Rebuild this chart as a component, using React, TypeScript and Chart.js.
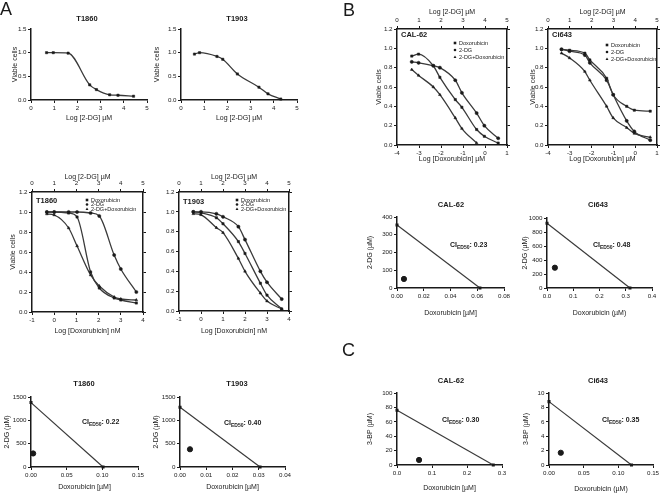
import React, { useEffect, useRef } from "react";
import { Chart, registerables } from "chart.js";
Chart.register(...registerables);

const FONT = "'Liberation Sans', Arial, Helvetica, sans-serif";
const INK = "#1a1a1a";
const LINE = "#3a3a3a";

// ---------------- DATA ----------------
// Panel A top: 2-DG alone (x = Log [2-DG] µM)
const aTopT1860Dose = [0.67, 0.96, 1.6, 2.53, 2.82, 3.39, 3.75, 4.42];
const aTopT1860Viab = [1.0, 1.0, 0.99, 0.32, 0.22, 0.11, 0.1, 0.08];
const aTopT1903Dose = [0.58, 0.8, 1.55, 1.8, 2.43, 3.36, 3.75, 4.3];
const aTopT1903Viab = [0.97, 1.0, 0.92, 0.86, 0.55, 0.27, 0.13, 0.02];

// Panel A middle (x in Log [2-DG] µM units of the top axis)
const aMidT1860Dose = [0.67, 1.0, 1.65, 2.03, 2.64, 3.03, 3.7, 4.0, 4.7];
const aMidT1860Dox = [1.0, 1.0, 0.99, 0.95, 0.4, 0.24, 0.14, 0.12, 0.09];
const aMidT1860DG = [1.0, 1.0, 1.0, 1.0, 0.99, 0.96, 0.57, 0.43, 0.2];
const aMidT1860Combo = [0.98, 0.97, 0.84, 0.66, 0.37, 0.26, 0.15, 0.13, 0.12];

const aMidT1903Dose = [0.65, 1.0, 1.7, 2.0, 2.7, 3.0, 3.7, 4.0, 4.67];
const aMidT1903Dox = [1.0, 0.99, 0.94, 0.88, 0.7, 0.58, 0.28, 0.16, 0.02];
const aMidT1903DG = [1.0, 1.0, 0.98, 0.95, 0.85, 0.72, 0.4, 0.29, 0.12];
const aMidT1903Combo = [0.98, 0.97, 0.84, 0.79, 0.53, 0.4, 0.18, 0.1, 0.02];

// Panel B (x in Log [2-DG] µM units of the top axis)
const bCalDose = [0.67, 0.98, 1.65, 1.95, 2.65, 2.95, 3.62, 3.97, 4.6];
const bCalDox = [0.92, 0.94, 0.82, 0.7, 0.47, 0.39, 0.16, 0.09, 0.02];
const bCalDG = [0.86, 0.85, 0.82, 0.8, 0.67, 0.54, 0.33, 0.2, 0.07];
const bCalComboDose = [0.67, 0.98, 1.65, 1.95, 2.65, 2.95, 3.62];
const bCalCombo = [0.78, 0.72, 0.6, 0.52, 0.28, 0.17, 0.02];

const bCiDose = [0.62, 0.99, 1.69, 1.92, 2.69, 2.99, 3.61, 3.96, 4.69];
const bCiDox = [0.99, 0.98, 0.95, 0.88, 0.69, 0.52, 0.4, 0.36, 0.35];
const bCiDG = [0.99, 0.97, 0.93, 0.85, 0.67, 0.52, 0.25, 0.14, 0.05];
const bCiCombo = [0.95, 0.9, 0.76, 0.67, 0.4, 0.28, 0.18, 0.12, 0.08];

// Isobolograms: additivity line [x-intercept dose, y-intercept dose] and combination point
const isoT1860LineX = [0, 0.101];
const isoT1860LineY = [1380, 0];
const isoT1860Point = [0.003, 290];
const isoT1903LineX = [0, 0.0305];
const isoT1903LineY = [1280, 0];
const isoT1903Point = [0.0038, 380];
const isoBCalLineX = [0, 0.062];
const isoBCalLineY = [355, 0];
const isoBCalPoint = [0.0052, 51];
const isoBCiLineX = [0, 0.316];
const isoBCiLineY = [924, 0];
const isoBCiPoint = [0.03, 290];
const isoCCalLineX = [0, 0.275];
const isoCCalLineY = [76, 0];
const isoCCalPoint = [0.063, 7];
const isoCCiLineX = [0, 0.119];
const isoCCiLineY = [8.8, 0];
const isoCCiPoint = [0.017, 1.7];

const ciValues = ["0.22", "0.40", "0.23", "0.48", "0.30", "0.35"];
const legendLabels = ["Doxorubicin", "2-DG", "2-DG+Doxorubicin"];

// ---------------- HELPERS ----------------
type Axis = { min: number; max: number; step: number; dec: number; title?: string; at?: number; size?: number };
type Item =
  | { k: "text"; s: string; x: number; y: number; size?: number; bold?: boolean; align?: CanvasTextAlign }
  | { k: "ci"; x: number; y: number; v: string }
  | { k: "leg"; x: number; y: number; s: string; m: string };
type Spec = {
  box: [number, number, number, number];
  plot: [number, number, number, number];
  x: Axis;
  y: Axis;
  xt?: Axis;
  right?: boolean;
  datasets: any[];
  items: Item[];
};

const TITLE = 7;
const LH = TITLE * 1.2;

const zip = (xs: number[], ys: number[]) => xs.map((x, i) => ({ x, y: ys[i] }));

function curve(xs: number[], ys: number[], style: string, xAxisID = "x") {
  return {
    data: zip(xs, ys),
    xAxisID,
    yAxisID: "y",
    showLine: true,
    cubicInterpolationMode: "monotone",
    borderColor: LINE,
    borderWidth: 1.3,
    pointRadius: 1.6,
    pointStyle: style,
    pointBackgroundColor: INK,
    pointBorderColor: INK,
    pointBorderWidth: 0.5,
    clip: false,
  };
}
function isoLine(xs: number[], ys: number[]) {
  return {
    data: zip(xs, ys),
    showLine: true,
    tension: 0,
    borderColor: LINE,
    borderWidth: 1.2,
    pointRadius: 1.3,
    pointStyle: "rect",
    pointBackgroundColor: INK,
    pointBorderColor: INK,
    clip: false,
  };
}
function isoPoint(p: number[]) {
  return {
    data: [{ x: p[0], y: p[1] }],
    showLine: false,
    pointRadius: 2.6,
    pointBackgroundColor: INK,
    pointBorderColor: INK,
    clip: false,
  };
}

function axisBase(a: Axis) {
  return {
    type: "linear",
    min: a.min,
    max: a.max,
    ticks: {
      stepSize: a.step,
      font: { family: FONT, size: a.size ?? 6.2 },
      color: INK,
      padding: 1.5,
      autoSkip: false,
      maxRotation: 0,
      callback: (v: any) => Number(v).toFixed(a.dec),
    },
    grid: { display: true, drawOnChartArea: false, drawTicks: true, tickLength: 3, color: INK, lineWidth: 1 },
    border: { display: true, color: INK, width: 1.5 },
  };
}
const titleFont = { family: FONT, size: TITLE };

function buildScales(s: Spec) {
  const [cx, cy, cw, ch] = s.box;
  const [l, t, r, b] = s.plot;
  const leftW = l - cx,
    bottomH = cy + ch - b,
    topH = t - cy,
    rightW = cx + cw - r;
  const sc: any = {};
  sc.x = {
    ...axisBase(s.x),
    position: "bottom",
    afterFit: (a: any) => {
      a.height = bottomH;
    },
    title: s.x.title
      ? { display: true, text: s.x.title, color: INK, font: titleFont, padding: { top: 0, bottom: cy + ch - (s.x.at as number) - LH / 2 } }
      : { display: false },
  };
  sc.y = {
    ...axisBase(s.y),
    position: "left",
    afterFit: (a: any) => {
      a.width = leftW;
    },
    title: s.y.title
      ? { display: true, text: s.y.title, color: INK, font: titleFont, padding: { top: (s.y.at as number) - cx - LH / 2, bottom: 0 } }
      : { display: false },
  };
  if (s.xt) {
    sc.xt = {
      ...axisBase(s.xt),
      axis: "x",
      position: "top",
      afterFit: (a: any) => {
        a.height = topH;
      },
      title: { display: true, text: s.xt.title, color: INK, font: titleFont, padding: { top: (s.xt.at as number) - cy - LH / 2, bottom: 0 } },
    };
  }
  if (s.right) {
    const base: any = axisBase(s.y);
    sc.yr = {
      ...base,
      axis: "y",
      position: "right",
      ticks: { ...base.ticks, display: false },
      afterFit: (a: any) => {
        a.width = rightW;
      },
    };
  }
  const padding = { left: 0, bottom: 0, top: s.xt ? 0 : topH, right: s.right ? 0 : rightW };
  return { sc, padding };
}

function drawMarker(ctx: CanvasRenderingContext2D, m: string, x: number, y: number, r: number) {
  ctx.beginPath();
  if (m === "rect") ctx.rect(x - r, y - r, 2 * r, 2 * r);
  else if (m === "triangle") {
    ctx.moveTo(x, y - r * 1.2);
    ctx.lineTo(x + r * 1.1, y + r * 0.8);
    ctx.lineTo(x - r * 1.1, y + r * 0.8);
    ctx.closePath();
  } else ctx.arc(x, y, r, 0, Math.PI * 2);
  ctx.fill();
}

function drawItems(ctx: CanvasRenderingContext2D, items: Item[], ox: number, oy: number) {
  ctx.save();
  ctx.fillStyle = INK;
  ctx.textBaseline = "middle";
  for (const it of items) {
    const x = it.x - ox,
      y = it.y - oy;
    if (it.k === "text") {
      ctx.font = `${it.bold ? "bold " : ""}${it.size ?? 7.5}px ${FONT}`;
      ctx.textAlign = it.align ?? "center";
      ctx.fillText(it.s, x, y);
    } else if (it.k === "ci") {
      ctx.textAlign = "left";
      ctx.font = `bold 7px ${FONT}`;
      ctx.fillText("CI", x, y);
      let w = ctx.measureText("CI").width;
      ctx.font = `bold 5px ${FONT}`;
      ctx.fillText("ED50", x + w, y + 2.2);
      w += ctx.measureText("ED50").width;
      ctx.font = `bold 7px ${FONT}`;
      ctx.fillText(": " + it.v, x + w, y);
    } else if (it.k === "leg") {
      drawMarker(ctx, it.m, x, y, 1.3);
      ctx.font = `5.5px ${FONT}`;
      ctx.textAlign = "left";
      ctx.fillText(it.s, x + 4, y);
    }
  }
  ctx.restore();
}

const legend = (x: number, ys: number[]): Item[] =>
  legendLabels.map((s, i) => ({ k: "leg", x, y: ys[i], s, m: ["rect", "circle", "triangle"][i] }));

// ---------------- SPECS ----------------
const yViab: Axis = { min: 0, max: 1.2, step: 0.2, dec: 1 };

const SPECS: Spec[] = [
  {
    box: [0, 8, 160, 120],
    plot: [31, 29, 147, 100],
    x: { min: 0, max: 5, step: 1, dec: 0, title: "Log [2-DG] µM", at: 118 },
    y: { min: 0, max: 1.5, step: 0.5, dec: 1, title: "Viable cells", at: 15 },
    datasets: [curve(aTopT1860Dose, aTopT1860Viab, "rect")],
    items: [{ k: "text", s: "T1860", x: 87, y: 19, bold: true }],
  },
  {
    box: [150, 8, 160, 120],
    plot: [181, 29, 297, 100],
    x: { min: 0, max: 5, step: 1, dec: 0, title: "Log [2-DG] µM", at: 118 },
    y: { min: 0, max: 1.5, step: 0.5, dec: 1, title: "Viable cells", at: 157 },
    datasets: [curve(aTopT1903Dose, aTopT1903Viab, "rect")],
    items: [{ k: "text", s: "T1903", x: 237, y: 19, bold: true }],
  },
  {
    box: [0, 168, 150, 170],
    plot: [32, 192, 143, 312],
    x: { min: -1, max: 4, step: 1, dec: 0, title: "Log [Doxorubicin] nM", at: 331 },
    xt: { min: 0, max: 5, step: 1, dec: 0, title: "Log [2-DG] µM", at: 177 },
    y: { ...yViab, title: "Viable cells", at: 13 },
    right: true,
    datasets: [
      curve(aMidT1860Dose, aMidT1860Dox, "rect", "xt"),
      curve(aMidT1860Dose, aMidT1860DG, "circle", "xt"),
      curve(aMidT1860Dose, aMidT1860Combo, "triangle", "xt"),
    ],
    items: [{ k: "text", s: "T1860", x: 36, y: 201, bold: true, align: "left" }, ...legend(87, [200, 204.5, 209])],
  },
  {
    box: [150, 168, 150, 170],
    plot: [179, 192, 289, 311],
    x: { min: -1, max: 4, step: 1, dec: 0, title: "Log [Doxorubicin] nM", at: 331 },
    xt: { min: 0, max: 5, step: 1, dec: 0, title: "Log [2-DG] µM", at: 177 },
    y: { ...yViab },
    right: true,
    datasets: [
      curve(aMidT1903Dose, aMidT1903Dox, "rect", "xt"),
      curve(aMidT1903Dose, aMidT1903DG, "circle", "xt"),
      curve(aMidT1903Dose, aMidT1903Combo, "triangle", "xt"),
    ],
    items: [{ k: "text", s: "T1903", x: 183, y: 202, bold: true, align: "left" }, ...legend(237, [200, 204.5, 209])],
  },
  {
    box: [0, 372, 150, 122],
    plot: [31, 397, 138, 467],
    x: { min: 0, max: 0.15, step: 0.05, dec: 2, title: "Doxorubicin [µM]", at: 487 },
    y: { min: 0, max: 1500, step: 500, dec: 0, title: "2-DG (µM)", at: 7 },
    datasets: [isoLine(isoT1860LineX, isoT1860LineY), isoPoint(isoT1860Point)],
    items: [
      { k: "text", s: "T1860", x: 84, y: 384, bold: true },
      { k: "ci", x: 82, y: 422, v: ciValues[0] },
    ],
  },
  {
    box: [150, 372, 150, 122],
    plot: [180, 397, 285, 467],
    x: { min: 0, max: 0.04, step: 0.01, dec: 2, title: "Doxorubicin [µM]", at: 487 },
    y: { min: 0, max: 1500, step: 500, dec: 0, title: "2-DG (µM)", at: 156 },
    datasets: [isoLine(isoT1903LineX, isoT1903LineY), isoPoint(isoT1903Point)],
    items: [
      { k: "text", s: "T1903", x: 237, y: 384, bold: true },
      { k: "ci", x: 224, y: 423, v: ciValues[1] },
    ],
  },
  {
    box: [355, 0, 160, 170],
    plot: [397, 29, 507, 145],
    x: { min: -4, max: 1, step: 1, dec: 0, title: "Log [Doxorubicin] µM", at: 159 },
    xt: { min: 0, max: 5, step: 1, dec: 0, title: "Log [2-DG] µM", at: 12 },
    y: { ...yViab, title: "Viable cells", at: 379 },
    right: true,
    datasets: [
      curve(bCalDose, bCalDox, "rect", "xt"),
      curve(bCalDose, bCalDG, "circle", "xt"),
      curve(bCalComboDose, bCalCombo, "triangle", "xt"),
    ],
    items: [{ k: "text", s: "CAL-62", x: 401, y: 35, bold: true, align: "left" }, ...legend(455, [43, 50, 57])],
  },
  {
    box: [510, 0, 156, 170],
    plot: [548, 29, 657, 145],
    x: { min: -4, max: 1, step: 1, dec: 0, title: "Log [Doxorubicin] µM", at: 159 },
    xt: { min: 0, max: 5, step: 1, dec: 0, title: "Log [2-DG] µM", at: 12 },
    y: { ...yViab, title: "Viable cells", at: 533 },
    right: true,
    datasets: [
      curve(bCiDose, bCiDox, "rect", "xt"),
      curve(bCiDose, bCiDG, "circle", "xt"),
      curve(bCiDose, bCiCombo, "triangle", "xt"),
    ],
    items: [{ k: "text", s: "Ci643", x: 552, y: 35, bold: true, align: "left" }, ...legend(607, [45, 52, 59])],
  },
  {
    box: [355, 195, 160, 130],
    plot: [397, 217, 504, 288],
    x: { min: 0, max: 0.08, step: 0.02, dec: 2, title: "Doxorubicin [µM]", at: 313 },
    y: { min: 0, max: 400, step: 100, dec: 0, title: "2-DG (µM)", at: 370 },
    datasets: [isoLine(isoBCalLineX, isoBCalLineY), isoPoint(isoBCalPoint)],
    items: [
      { k: "text", s: "CAL-62", x: 451, y: 205, bold: true },
      { k: "ci", x: 450, y: 245, v: ciValues[2] },
    ],
  },
  {
    box: [510, 195, 156, 130],
    plot: [547, 218, 652, 288],
    x: { min: 0, max: 0.4, step: 0.1, dec: 1, title: "Doxorubicin (µM)", at: 313 },
    y: { min: 0, max: 1000, step: 200, dec: 0, title: "2-DG (µM)", at: 525 },
    datasets: [isoLine(isoBCiLineX, isoBCiLineY), isoPoint(isoBCiPoint)],
    items: [
      { k: "text", s: "Ci643", x: 598, y: 205, bold: true },
      { k: "ci", x: 593, y: 245, v: ciValues[3] },
    ],
  },
  {
    box: [355, 370, 160, 124],
    plot: [397, 393, 502, 465],
    x: { min: 0, max: 0.3, step: 0.1, dec: 1, title: "Doxorubicin [µM]", at: 488 },
    y: { min: 0, max: 100, step: 20, dec: 0, title: "3-BP (µM)", at: 370 },
    datasets: [isoLine(isoCCalLineX, isoCCalLineY), isoPoint(isoCCalPoint)],
    items: [
      { k: "text", s: "CAL-62", x: 451, y: 381, bold: true },
      { k: "ci", x: 442, y: 420, v: ciValues[4] },
    ],
  },
  {
    box: [510, 370, 156, 124],
    plot: [549, 393, 653, 465],
    x: { min: 0, max: 0.15, step: 0.05, dec: 2, title: "Doxorubicin (µM)", at: 489 },
    y: { min: 0, max: 10, step: 2, dec: 0, title: "3-BP (µM)", at: 526 },
    datasets: [isoLine(isoCCiLineX, isoCCiLineY), isoPoint(isoCCiPoint)],
    items: [
      { k: "text", s: "Ci643", x: 598, y: 381, bold: true },
      { k: "ci", x: 602, y: 420, v: ciValues[5] },
    ],
  },
];

// ---------------- COMPONENTS ----------------
function Plot({ spec }: { spec: Spec }) {
  const ref = useRef<HTMLCanvasElement>(null);
  useEffect(() => {
    const { sc, padding } = buildScales(spec);
    const [cx, cy] = spec.box;
    const datasets = JSON.parse(JSON.stringify(spec.datasets));
    const chart = new Chart(ref.current as HTMLCanvasElement, {
      type: "scatter",
      data: { datasets },
      options: {
        responsive: false,
        maintainAspectRatio: false,
        animation: false,
        devicePixelRatio: 1,
        events: [],
        layout: { padding },
        scales: sc,
        plugins: { legend: { display: false }, tooltip: { enabled: false }, title: { display: false } },
      },
      plugins: [
        {
          id: "txt",
          afterDraw: (c: any) => drawItems(c.ctx, spec.items, cx, cy),
        },
      ],
    } as any);
    return () => chart.destroy();
  }, [spec]);
  const [x, y, w, h] = spec.box;
  return (
    <canvas
      ref={ref}
      width={w}
      height={h}
      style={{ position: "absolute", left: x, top: y, width: w, height: h }}
    />
  );
}

const letterStyle = (left: number, top: number): React.CSSProperties => ({
  position: "absolute",
  left,
  top,
  fontSize: 18,
  lineHeight: "18px",
  color: INK,
  fontFamily: FONT,
});

export default function App() {
  return (
    <div
      style={{
        position: "fixed",
        left: 0,
        top: 0,
        width: 666,
        height: 494,
        background: "#ffffff",
        overflow: "hidden",
      }}
    >
      {SPECS.map((s, i) => (
        <Plot key={i} spec={s} />
      ))}
      <div style={letterStyle(0, 0)}>A</div>
      <div style={letterStyle(343, 1)}>B</div>
      <div style={letterStyle(342, 341)}>C</div>
    </div>
  );
}
